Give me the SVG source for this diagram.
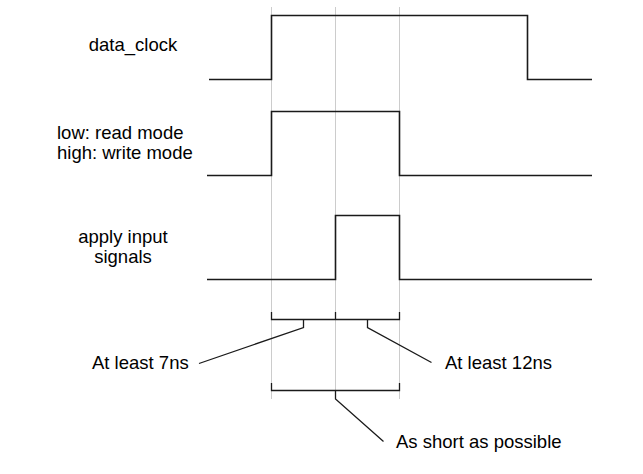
<svg xmlns="http://www.w3.org/2000/svg" width="643" height="474" viewBox="0 0 643 474">
<style>
.grid{stroke:#cccccc;stroke-width:1;fill:none}
.sig{stroke:#1a1a1a;stroke-width:1.6;fill:none}
.br{stroke:#1a1a1a;stroke-width:1.3;fill:none}
text{font-family:"Liberation Sans",Arial,sans-serif;font-size:18.5px;fill:#000}
</style>
<rect width="643" height="474" fill="#ffffff"/>
<g id="gridlines">
<path class="grid" d="M271.5,7 V399 M335.5,7 V399 M399.5,7 V399"/>
</g>
<g id="data_clock">
<text x="133" y="50.5" text-anchor="middle">data_clock</text>
<path class="sig" d="M209,79.5 H271.5 V15.5 H527.5 V79.5 H592"/>
</g>
<g id="mode">
<text x="57" y="139">low: read mode</text>
<text x="57" y="159">high: write mode</text>
<path class="sig" d="M207,175.5 H271.5 V111.5 H399.5 V175.5 H592"/>
</g>
<g id="apply_input">
<text x="123" y="243" text-anchor="middle">apply input</text>
<text x="123" y="263" text-anchor="middle">signals</text>
<path class="sig" d="M207,279.5 H335.5 V215.5 H399.5 V279.5 H592"/>
</g>
<g id="connectors">
<path class="br" d="M271.5,312 V319.5 H399.5 V312 M335.5,312 V319.5"/>
<path class="br" d="M303.5,319.5 V327.5 L199,363.5"/>
<path class="br" d="M367.5,319.5 V327.5 L431.5,362.5"/>
<path class="br" d="M271.5,383 V390.5 H399.5 V383"/>
<path class="br" d="M335.5,390.5 V399 L383.5,441.5"/>
</g>
<g id="labels">
<text x="92" y="368.5">At least 7ns</text>
<text x="445" y="368.5">At least 12ns</text>
<text x="396" y="448">As short as possible</text>
</g>
</svg>
